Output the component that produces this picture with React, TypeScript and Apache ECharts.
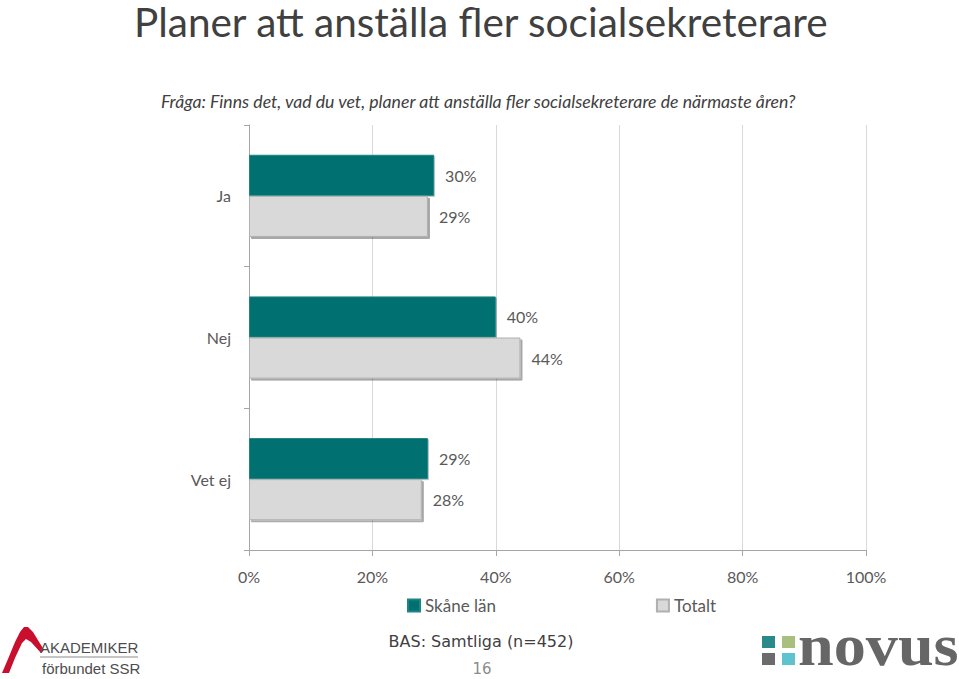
import React, { useEffect, useRef } from "react";
import * as echarts from "echarts";

const categories = ["Ja", "Nej", "Vet ej"];
const skaneValues = [30, 40, 29];
const totaltValues = [29, 44, 28];
const seriesNames = ["Skåne län", "Totalt"];
const xTicks = [0, 20, 40, 60, 80, 100];

const titleText = "Planer att anställa fler socialsekreterare";
const questionText =
  "Fråga: Finns det, vad du vet, planer att anställa fler socialsekreterare de närmaste åren?";
const baseText = "BAS: Samtliga (n=452)";
const pageNumber = "16";

export default function App() {
  const ref = useRef<HTMLDivElement>(null);
  useEffect(() => {
    document.body.style.margin = "0";
    const chart = echarts.init(ref.current!, null, { renderer: "svg" });
    const font = "Lato, 'Open Sans', sans-serif";
    chart.setOption({
      animation: false,
      backgroundColor: "#ffffff",
      textStyle: { fontFamily: font },
      grid: { left: 249, right: 93, top: 125, bottom: 129, containLabel: false },
      legend: {
        left: 407,
        top: 597,
        padding: 0,
        itemWidth: 12,
        itemHeight: 12,
        itemGap: 160,
        icon: "rect",
        data: seriesNames,
        textStyle: { fontSize: 17, color: "#595959", fontFamily: font },
      },
      xAxis: {
        type: "value",
        min: xTicks[0],
        max: xTicks[xTicks.length - 1],
        interval: 20,
        axisLine: { show: true, lineStyle: { color: "#A6A6A6", width: 1 } },
        axisTick: { show: true, length: 6, lineStyle: { color: "#A6A6A6" } },
        axisLabel: {
          formatter: "{value}%",
          fontSize: 16,
          color: "#595959",
          margin: 18,
          fontFamily: font,
        },
        splitLine: { show: true, lineStyle: { color: "#D9D9D9", width: 1 } },
      },
      yAxis: {
        type: "category",
        inverse: true,
        data: categories,
        axisLine: { show: true, lineStyle: { color: "#A6A6A6", width: 1 } },
        axisTick: { show: true, length: 5, lineStyle: { color: "#A6A6A6" } },
        axisLabel: { fontSize: 16, color: "#595959", margin: 18, fontFamily: font },
        splitLine: { show: false },
      },
      series: [
        {
          name: seriesNames[0],
          type: "bar",
          data: skaneValues,
          barGap: "0%",
          barCategoryGap: "42%",
          itemStyle: {
            color: "#006F6F",
            borderColor: "#1E8585",
            borderWidth: 1,
            shadowColor: "rgba(0,0,0,0.25)",
            shadowOffsetX: 1,
            shadowOffsetY: 1,
            shadowBlur: 1,
          },
          label: {
            show: true,
            position: "right",
            distance: 11,
            formatter: "{c}%",
            fontSize: 16,
            color: "#595959",
            fontFamily: font,
          },
        },
        {
          name: seriesNames[1],
          type: "bar",
          data: totaltValues,
          barGap: "0%",
          barCategoryGap: "42%",
          itemStyle: {
            color: "#D9D9D9",
            borderColor: "#B0B0B0",
            borderWidth: 1,
            shadowColor: "rgba(0,0,0,0.35)",
            shadowOffsetX: 2,
            shadowOffsetY: 2,
            shadowBlur: 1,
          },
          label: {
            show: true,
            position: "right",
            distance: 11,
            formatter: "{c}%",
            fontSize: 16,
            color: "#595959",
            fontFamily: font,
          },
        },
      ],
      graphic: [
        {
          type: "text",
          x: 134,
          y: 21,
          style: {
            text: titleText,
            font: "40.5px " + font,
            lineHeight: 36,
            fill: "#404040",
            verticalAlign: "middle",
          },
        },
        {
          type: "text",
          left: 161,
          top: 92,
          style: {
            text: questionText,
            font: "italic 17.7px " + font,
            fill: "#404040",
          },
        },
        {
          type: "text",
          x: 481,
          y: 641,
          style: {
            text: baseText,
            font: "16px 'DejaVu Sans', sans-serif",
            fill: "#404040",
            align: "center",
            verticalAlign: "middle",
          },
        },
        {
          type: "text",
          x: 482,
          y: 669,
          style: {
            text: pageNumber,
            font: "15px 'DejaVu Sans', sans-serif",
            fill: "#8C8C8C",
            align: "center",
            verticalAlign: "middle",
          },
        },
        // Akademikerförbundet SSR logo
        {
          type: "polygon",
          shape: {
            points: [
              [2, 673], [8, 659], [15, 642], [20, 632], [24, 627], [28, 627],
              [33, 632], [44, 650], [41, 653], [31, 642], [26, 639], [22, 643],
              [15, 658], [9, 673],
            ],
          },
          style: { fill: "#C8102E" },
        },
        {
          type: "text",
          x: 40,
          y: 647,
          style: {
            text: "AKADEMIKER",
            font: "15px 'Liberation Sans', sans-serif",
            fill: "#4D4D4D",
            verticalAlign: "middle",
          },
        },
        {
          type: "line",
          shape: { x1: 40, y1: 657, x2: 138, y2: 657 },
          style: { stroke: "#8C8C8C", lineWidth: 1 },
        },
        {
          type: "text",
          x: 42,
          y: 668,
          style: {
            text: "förbundet SSR",
            font: "15px 'Liberation Sans', sans-serif",
            fill: "#4D4D4D",
            verticalAlign: "middle",
          },
        },
        // Novus logo
        { type: "rect", shape: { x: 762, y: 636, width: 13, height: 12 }, style: { fill: "#2A8A8A" } },
        { type: "rect", shape: { x: 782, y: 636, width: 13, height: 12 }, style: { fill: "#A9BF7E" } },
        { type: "rect", shape: { x: 762, y: 653, width: 13, height: 12 }, style: { fill: "#6B6B6B" } },
        { type: "rect", shape: { x: 782, y: 653, width: 13, height: 12 }, style: { fill: "#5EC3CF" } },
        {
          type: "text",
          x: 798,
          y: 645,
          scaleX: 1.07,
          style: {
            text: "novus",
            font: "bold 60px 'Liberation Serif', serif",
            fill: "#666666",
            verticalAlign: "middle",
          },
        },
      ],
    });
    return () => chart.dispose();
  }, []);
  return (
    <div
      ref={ref}
      style={{ position: "absolute", left: 0, top: 0, width: 959, height: 679 }}
    />
  );
}
